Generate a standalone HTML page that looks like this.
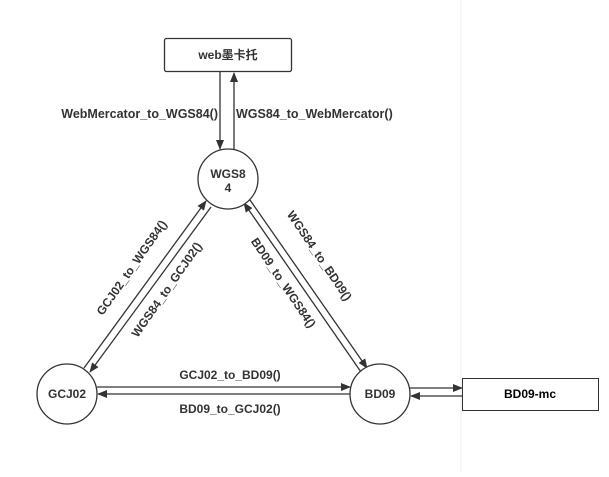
<!DOCTYPE html>
<html><head><meta charset="utf-8"><style>
html,body{margin:0;padding:0;background:#fff;}
svg text{font-family:"Liberation Sans","Noto Sans CJK SC",sans-serif;font-weight:bold;font-size:12px;fill:#333;}
</style></head><body>
<svg width="609" height="472" viewBox="0 0 609 472" xmlns="http://www.w3.org/2000/svg">
<defs>
<marker id="a" markerWidth="10" markerHeight="8" refX="9" refY="4" orient="auto" markerUnits="userSpaceOnUse">
<path d="M0,0 L10,4 L0,8 z" fill="#333"/></marker>
</defs>
<line x1="461" y1="0" x2="461" y2="472" stroke="#eee" stroke-width="1"/>
<rect x="164.5" y="38.5" width="127" height="33" rx="2" fill="#fff" stroke="#333" stroke-width="1.3"/>
<text x="228" y="59" text-anchor="middle">web墨卡托</text>
<g stroke="#333" stroke-width="1.3" fill="none">
<line x1="220" y1="72" x2="220" y2="149" marker-end="url(#a)"/>
<line x1="234" y1="150" x2="234" y2="73" marker-end="url(#a)"/>
<line x1="84" y1="368" x2="206" y2="201" marker-end="url(#a)"/>
<line x1="211" y1="207" x2="90" y2="372" marker-end="url(#a)"/>
<line x1="361" y1="372" x2="244" y2="203" marker-end="url(#a)"/>
<line x1="250" y1="200" x2="367" y2="368" marker-end="url(#a)"/>
<line x1="97" y1="387" x2="350" y2="387" marker-end="url(#a)"/>
<line x1="350" y1="394" x2="98" y2="394" marker-end="url(#a)"/>
<line x1="410" y1="388" x2="462" y2="388" marker-end="url(#a)"/>
<line x1="462" y1="396" x2="411" y2="396" marker-end="url(#a)"/>
</g>
<ellipse cx="228" cy="179" rx="30" ry="30" fill="#fff" stroke="#333" stroke-width="1.3"/>
<ellipse cx="67" cy="394" rx="30" ry="30" fill="#fff" stroke="#333" stroke-width="1.3"/>
<ellipse cx="380" cy="394" rx="30" ry="30" fill="#fff" stroke="#333" stroke-width="1.3"/>
<text x="228" y="178" text-anchor="middle">WGS8</text>
<text x="228" y="192" text-anchor="middle">4</text>
<text x="67" y="398" text-anchor="middle">GCJ02</text>
<text x="380" y="398" text-anchor="middle">BD09</text>
<rect x="462.5" y="378.5" width="136" height="32" fill="#fff" stroke="#333" stroke-width="1"/>
<text x="530" y="398" text-anchor="middle" style="fill:#000">BD09-mc</text>
<text x="218" y="118" text-anchor="end" style="font-size:12.5px">WebMercator_to_WGS84()</text>
<text x="236" y="118" style="font-size:12.5px">WGS84_to_WebMercator()</text>
<text x="230" y="379" text-anchor="middle">GCJ02_to_BD09()</text>
<text x="230" y="413" text-anchor="middle">BD09_to_GCJ02()</text>
<text transform="translate(135,270) rotate(-55)" text-anchor="middle">GCJ02_to_WGS84()</text>
<text transform="translate(170,292) rotate(-55)" text-anchor="middle">WGS84_to_GCJ02()</text>
<text transform="translate(316,258) rotate(56)" text-anchor="middle">WGS84_to_BD09()</text>
<text transform="translate(280,285) rotate(56)" text-anchor="middle">BD09_to_WGS84()</text>
</svg>
</body></html>
